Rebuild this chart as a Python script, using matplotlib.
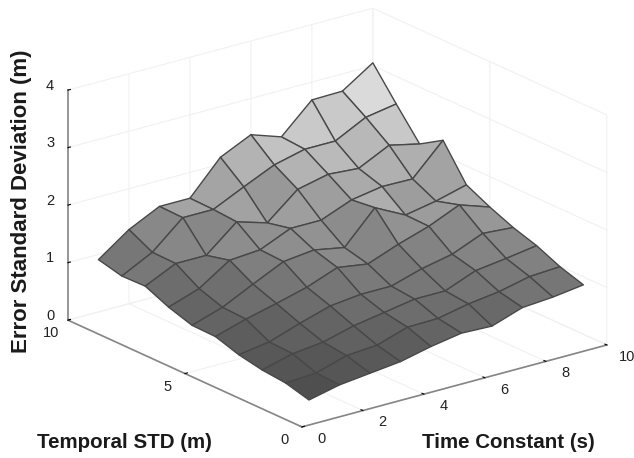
import numpy as np
import matplotlib
matplotlib.use("Agg")
import matplotlib.pyplot as plt
from matplotlib.colors import LinearSegmentedColormap, Normalize
from mpl_toolkits.mplot3d import proj3d

plt.rcParams['font.family'] = ['Liberation Sans', 'DejaVu Sans']

time_constant = [1, 2, 3, 4, 5, 6, 7, 8, 9, 10]
temporal_std = [1, 2, 3, 4, 5, 6, 7, 8, 9, 10]

# one row per temporal STD value, one column per time constant
z_std1 = [0.14, 0.26, 0.32, 0.38, 0.50, 0.59, 0.57, 0.75, 0.79, 0.86]
z_std2 = [0.25, 0.28, 0.44, 0.48, 0.65, 0.66, 0.77, 0.84, 0.96, 0.99]
z_std3 = [0.29, 0.43, 0.49, 0.63, 0.72, 0.81, 0.81, 1.02, 1.09, 1.17]
z_std4 = [0.37, 0.45, 0.63, 0.79, 0.85, 0.85, 1.01, 1.12, 1.34, 1.30]
z_std5 = [0.50, 0.66, 0.79, 0.93, 1.13, 1.05, 1.25, 1.42, 1.65, 1.47]
z_std6 = [0.51, 0.68, 0.94, 1.19, 1.25, 1.15, 1.70, 1.43, 1.53, 1.67]
z_std7 = [0.64, 0.82, 1.17, 1.21, 1.44, 1.44, 1.65, 1.74, 1.73, 2.26]
z_std8 = [0.82, 1.07, 1.07, 1.51, 1.35, 1.79, 1.91, 1.87, 2.13, 2.01]
z_std9 = [0.81, 1.08, 1.54, 1.54, 1.79, 2.03, 2.16, 2.16, 2.43, 2.52]
z_std10 = [0.91, 1.29, 1.55, 1.55, 2.12, 2.37, 2.19, 2.69, 2.70, 3.05]

x_ticks = [0, 2, 4, 6, 8, 10]
y_ticks = [0, 5, 10]
z_ticks = [0, 1, 2, 3, 4]

X, Y = np.meshgrid(time_constant, temporal_std)
Z = np.array([z_std1, z_std2, z_std3, z_std4, z_std5,
              z_std6, z_std7, z_std8, z_std9, z_std10])

cmap = LinearSegmentedColormap.from_list("grey_surf", ["#4f4f4f", "#ffffff"])
face_colors = cmap(Normalize(Z.min(), Z.max())(Z))

fig = plt.figure(figsize=(6.34, 4.58), dpi=100)
ax = fig.add_axes([0.0632, -0.1242, 0.9132, 1.2642], projection='3d', proj_type='ortho')
ax.view_init(elev=20.5, azim=-127.5)
ax.set_box_aspect((1, 1, 0.639), zoom=1.0)

ax.plot_surface(X, Y, Z, facecolors=face_colors, edgecolor="#484848",
                linewidth=1.0, shade=False, rstride=1, cstride=1)

ax.set_xlim(0, 10, view_margin=0)
ax.set_ylim(0, 10, view_margin=0)
ax.set_zlim(0, 4, view_margin=0)
ax.set_xticks(x_ticks)
ax.set_yticks(y_ticks)
ax.set_zticks(z_ticks)

for axis in (ax.xaxis, ax.yaxis, ax.zaxis):
    axis.set_pane_color((1, 1, 1, 0))
    axis.pane.set_edgecolor("#eeeeee")
    axis.line.set_color("#858585")
    axis.line.set_linewidth(1.2)
    axis._axinfo['grid']['color'] = "#f1f1f1"
    axis._axinfo['grid']['linewidth'] = 0.8
    axis._axinfo['tick']['color'] = "#858585"
    axis._axinfo['tick']['inward_factor'] = 0.0
    axis._axinfo['tick']['outward_factor'] = 0.1
    # real labels are placed by hand below
    for tick in axis.get_major_ticks():
        tick.label1.set_visible(False)
        tick.label2.set_visible(False)
ax.zaxis.set_ticks_position('upper')


# tick labels sit further right than mplot3d puts them, so place them by hand
def tick_label(x, y, z, s):
    xs, ys, _ = proj3d.proj_transform(x, y, z, ax.get_proj())
    ax.text2D(xs, ys, s, transform=ax.transData, fontsize=10.5, color="#222222",
              ha='center', va='center')


for t in x_ticks:
    tick_label(t - 0.13, -1.02, 0, str(t))
for t in y_ticks:
    tick_label(-0.94, t - 0.5, 0, str(t))
for t in z_ticks:
    tick_label(-0.37, 10.28, t + 0.08, str(t))

fig.text(22 / 634, 1 - 201 / 458, "Error Standard Deviation (m)", rotation=90,
         fontsize=16, fontweight='bold', ha='center', va='center', color="#1a1a1a")
fig.text(124 / 634, 1 - 443 / 458, "Temporal STD (m)", fontsize=14.8,
         fontweight='bold', ha='center', va='center', color="#1a1a1a")
fig.text(508 / 634, 1 - 443 / 458, "Time Constant (s)", fontsize=14.8,
         fontweight='bold', ha='center', va='center', color="#1a1a1a")

fig.savefig("out.png", dpi=100)
